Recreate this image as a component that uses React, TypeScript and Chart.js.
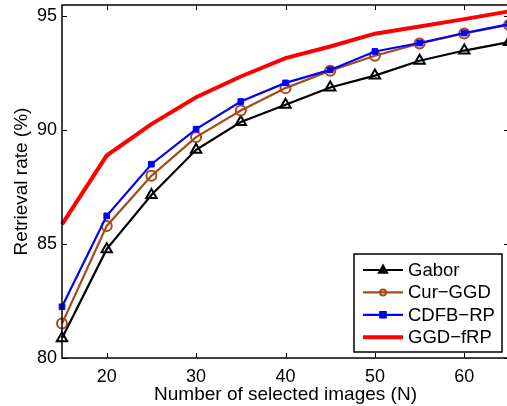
import React, { useEffect, useRef } from "react";
import { Chart, registerables } from "chart.js";

Chart.register(...registerables);

const xValues = [15, 20, 25, 30, 35, 40, 45, 50, 55, 60, 65];
const gabor = [80.87, 84.78, 87.16, 89.14, 90.36, 91.12, 91.88, 92.4, 93.05, 93.5, 93.87];
const curGGD = [81.51, 85.8, 88.0, 89.7, 90.87, 91.85, 92.61, 93.27, 93.81, 94.25, 94.62];
const cdfbRP = [82.25, 86.24, 88.51, 90.05, 91.26, 92.08, 92.65, 93.46, 93.83, 94.27, 94.66];
const ggdFRP = [85.87, 88.89, 90.27, 91.45, 92.36, 93.17, 93.68, 94.24, 94.56, 94.88, 95.22];
const seriesLabels = ["Gabor", "Cur\u2212GGD", "CDFB\u2212RP", "GGD\u2212fRP"];
const xTicks = [20, 30, 40, 50, 60];
const yTicks = [80, 85, 90, 95];

const FONT = "'Liberation Sans', Arial, Helvetica, sans-serif";

const toPts = (ys: number[]) => xValues.map((x, i) => ({ x, y: ys[i] }));

function drawMarker(ctx: CanvasRenderingContext2D, style: string, x: number, y: number, r: number, color: string, fill: boolean) {
  ctx.save();
  ctx.beginPath();
  if (style === "triangle") {
    ctx.moveTo(x, y - r);
    ctx.lineTo(x + r * 0.9, y + r * 0.6);
    ctx.lineTo(x - r * 0.9, y + r * 0.6);
    ctx.closePath();
  } else if (style === "circle") {
    ctx.arc(x, y, r, 0, Math.PI * 2);
  } else if (style === "rect") {
    ctx.rect(x - r, y - r, 2 * r, 2 * r);
  }
  ctx.strokeStyle = color;
  ctx.fillStyle = color;
  ctx.lineWidth = 2;
  if (fill) ctx.fill();
  ctx.stroke();
  ctx.restore();
}

const framePlugin = {
  id: "frame",
  afterDatasetsDraw(chart: any) {
    const { ctx, chartArea } = chart;
    const { left, right, top, bottom } = chartArea;
    const xs = chart.scales.x;
    const ys = chart.scales.y;
    ctx.save();
    ctx.strokeStyle = "#000";
    ctx.lineWidth = 1.5;
    ctx.strokeRect(left, top, right - left, bottom - top);
    ctx.lineWidth = 1;
    const tl = 5;
    ctx.beginPath();
    xs.ticks.forEach((t: any) => {
      const px = Math.round(xs.getPixelForValue(t.value)) + 0.5;
      ctx.moveTo(px, bottom);
      ctx.lineTo(px, bottom - tl);
      ctx.moveTo(px, top);
      ctx.lineTo(px, top + tl);
    });
    ys.ticks.forEach((t: any) => {
      const py = Math.round(ys.getPixelForValue(t.value)) + 0.5;
      ctx.moveTo(left, py);
      ctx.lineTo(left + tl, py);
      ctx.moveTo(right, py);
      ctx.lineTo(right - tl, py);
    });
    ctx.stroke();
    ctx.restore();
  },
};

const legendPlugin = {
  id: "boxLegend",
  afterDraw(chart: any) {
    const { ctx, chartArea } = chart;
    const boxR = chartArea.right - 7;
    const boxB = chartArea.bottom - 6;
    const boxW = 148;
    const boxH = 98;
    const boxL = boxR - boxW;
    const boxT = boxB - boxH;
    ctx.save();
    ctx.fillStyle = "#fff";
    ctx.fillRect(boxL, boxT, boxW, boxH);
    ctx.strokeStyle = "#000";
    ctx.lineWidth = 1.5;
    ctx.strokeRect(boxL, boxT, boxW, boxH);
    chart.data.datasets.forEach((ds: any, i: number) => {
      const cy = boxT + 16 + i * 22.4;
      ctx.beginPath();
      ctx.strokeStyle = ds.borderColor;
      ctx.lineWidth = ds.borderWidth;
      ctx.moveTo(boxL + 9, cy);
      ctx.lineTo(boxL + 49, cy);
      ctx.stroke();
      if (ds.pointRadius > 0) {
        const r = ds.pointStyle === "triangle" ? 4.5 : ds.pointStyle === "circle" ? 3 : 2.8;
        drawMarker(ctx, ds.pointStyle, boxL + 29, cy, r, ds.borderColor, ds.pointStyle !== "circle");
      }
      ctx.fillStyle = "#000";
      ctx.font = `18.5px ${FONT}`;
      ctx.textBaseline = "middle";
      ctx.textAlign = "left";
      ctx.fillText(ds.label, boxL + 54, cy + 1);
    });
    ctx.restore();
  },
};

const zeroPad = (s: any) => {
  s.paddingTop = 0;
  s.paddingBottom = 0;
  s.paddingLeft = 0;
  s.paddingRight = 0;
};

export default function App() {
  const ref = useRef<HTMLCanvasElement | null>(null);
  useEffect(() => {
    document.body.style.margin = "0";
    document.body.style.overflow = "hidden";
    document.documentElement.style.overflow = "hidden";
    const canvas = ref.current;
    if (!canvas) return;
    const brown = "rgb(166,72,24)";
    const chart = new Chart(canvas, {
      type: "line",
      data: {
        datasets: [
          {
            label: seriesLabels[0],
            data: toPts(gabor),
            borderColor: "#000",
            borderWidth: 2.2,
            pointStyle: "triangle",
            pointRadius: 6,
            pointBorderWidth: 2,
            pointBackgroundColor: "rgba(0,0,0,0)",
            pointBorderColor: "#000",
            order: 4,
          },
          {
            label: seriesLabels[1],
            data: toPts(curGGD),
            borderColor: brown,
            borderWidth: 2.2,
            pointStyle: "circle",
            pointRadius: 5,
            pointBorderWidth: 2,
            pointBackgroundColor: "rgba(0,0,0,0)",
            pointBorderColor: brown,
            order: 3,
          },
          {
            label: seriesLabels[2],
            data: toPts(cdfbRP),
            borderColor: "#0000ff",
            borderWidth: 2.2,
            pointStyle: "rect",
            pointRadius: 4,
            pointBorderWidth: 1,
            pointBackgroundColor: "#0000ff",
            pointBorderColor: "#0000ff",
            order: 2,
          },
          {
            label: seriesLabels[3],
            data: toPts(ggdFRP),
            borderColor: "#ff0000",
            borderWidth: 4,
            pointRadius: 0,
            order: 1,
          },
        ] as any,
      },
      options: {
        responsive: false,
        animation: false,
        devicePixelRatio: 1,
        clip: false as any,
        layout: { autoPadding: false, padding: { top: 5, right: 1, left: 0, bottom: 0 } },
        plugins: { legend: { display: false }, tooltip: { enabled: false } },
        elements: { line: { tension: 0 } },
        scales: {
          x: {
            type: "linear",
            min: 15,
            max: 65,
            grid: { display: false, drawTicks: false },
            border: { display: false },
            afterBuildTicks: (s: any) => {
              s.ticks = xTicks.map((v) => ({ value: v }));
            },
            afterFit: (s: any) => {
              s.height = 48;
              zeroPad(s);
            },
            ticks: { color: "#000", font: { size: 18, family: FONT }, padding: 8, maxRotation: 0, autoSkip: false },
            title: {
              display: true,
              text: "Number of selected images (N)",
              color: "#000",
              font: { size: 19, family: FONT },
              padding: { top: 0, bottom: 0 },
            },
          },
          y: {
            type: "linear",
            min: 80,
            max: 95.5,
            grid: { display: false, drawTicks: false },
            border: { display: false },
            afterBuildTicks: (s: any) => {
              s.ticks = yTicks.map((v) => ({ value: v }));
            },
            afterFit: (s: any) => {
              s.width = 62;
              zeroPad(s);
            },
            ticks: { color: "#000", font: { size: 18, family: FONT }, padding: 5, autoSkip: false },
            title: {
              display: true,
              text: "Retrieval rate (%)",
              color: "#000",
              font: { size: 19, family: FONT },
              padding: { top: 10.5, bottom: 0 },
            },
          },
        },
      } as any,
      plugins: [framePlugin, legendPlugin],
    });
    return () => chart.destroy();
  }, []);
  return (
    <div style={{ position: "fixed", left: 0, top: 0, width: 510, height: 406, background: "#fff" }}>
      <canvas ref={ref} width={510} height={406} style={{ display: "block" }} />
    </div>
  );
}
